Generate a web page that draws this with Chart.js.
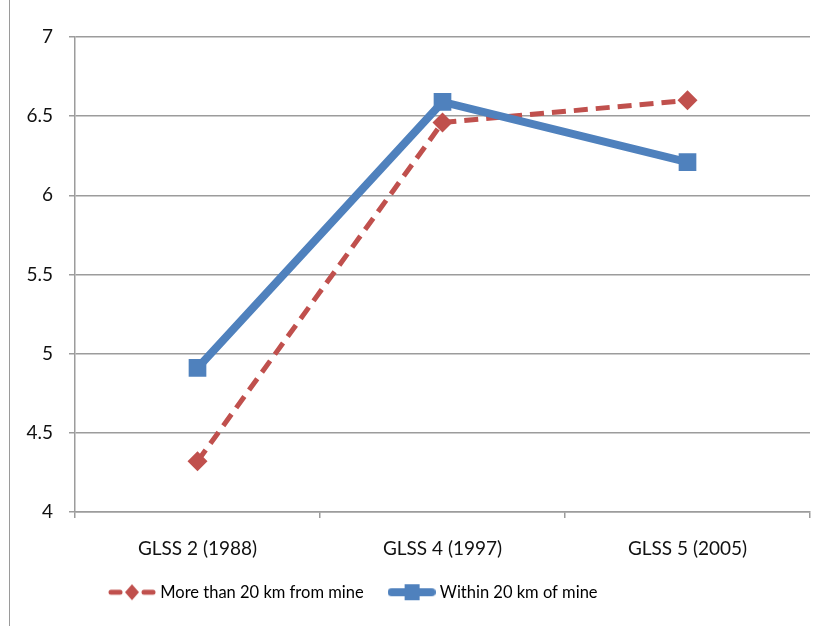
<!DOCTYPE html>
<html>
<head>
<meta charset="utf-8">
<script src="https://cdn.jsdelivr.net/npm/chart.js@4/dist/chart.umd.min.js"></script>
<style>
html,body{margin:0;padding:0;background:#fff;}
#wrap{position:relative;width:828px;height:626px;}
</style>
</head>
<body>
<div id="wrap"><canvas id="c" width="828" height="626"></canvas></div>
<script>
const categories = ["GLSS 2 (1988)", "GLSS 4 (1997)", "GLSS 5 (2005)"];
const seriesNames = ["More than 20 km from mine", "Within 20 km of mine"];
const moreThan20km = [4.32, 6.46, 6.60];
const within20km = [4.91, 6.59, 6.21];
const yTicks = [4, 4.5, 5, 5.5, 6, 6.5, 7];
const yTickLabels = ["4", "4.5", "5", "5.5", "6", "6.5", "7"];

const RED = '#c0504d';
const BLUE = '#4f81bd';
const GRID = '#9c9c9c';
const FONT = 'Lato, "Open Sans", sans-serif';

function legendIcon(kind) {
  const c = document.createElement('canvas');
  c.width = 48; c.height = 20;
  const g = c.getContext('2d');
  if (kind === 'red') {
    g.strokeStyle = RED; g.lineWidth = 5; g.lineCap = 'round';
    g.beginPath(); g.moveTo(3, 10); g.lineTo(12, 10); g.stroke();
    g.beginPath(); g.moveTo(36, 10); g.lineTo(45, 10); g.stroke();
    g.fillStyle = RED;
    g.beginPath(); g.moveTo(24, 2); g.lineTo(31, 10); g.lineTo(24, 18); g.lineTo(17, 10); g.closePath(); g.fill();
  } else {
    g.strokeStyle = BLUE; g.lineWidth = 8; g.lineCap = 'round';
    g.beginPath(); g.moveTo(4, 10); g.lineTo(44, 10); g.stroke();
    g.fillStyle = BLUE;
    g.fillRect(17, 2, 15, 16);
  }
  return c;
}
const icons = [legendIcon('red'), legendIcon('blue')];

const borderPlugin = {
  id: 'leftBorder',
  beforeDraw(chart) {
    const ctx = chart.ctx;
    ctx.save();
    ctx.strokeStyle = '#9a9a9a';
    ctx.lineWidth = 1;
    ctx.beginPath(); ctx.moveTo(9.5, 0); ctx.lineTo(9.5, 626); ctx.stroke();
    ctx.restore();
  },
  afterLayout(chart) {
    const lg = chart.legend;
    const w = lg.right - lg.left;
    const h = lg.bottom - lg.top;
    lg.left = 84; lg.right = 84 + w;
    lg.top = 556; lg.bottom = 556 + h;
  }
};

new Chart(document.getElementById('c'), {
  type: 'line',
  data: {
    labels: categories,
    datasets: [
      {
        label: seriesNames[0],
        data: moreThan20km,
        borderColor: RED,
        backgroundColor: RED,
        borderWidth: 5,
        borderDash: [14, 8],
        pointStyle: 'rectRot',
        pointRadius: 10,
        pointHoverRadius: 10,
        pointBorderWidth: 0,
        tension: 0,
        order: 2
      },
      {
        label: seriesNames[1],
        data: within20km,
        borderColor: BLUE,
        backgroundColor: BLUE,
        borderWidth: 8,
        pointStyle: 'rect',
        pointRadius: 12.5,
        pointHoverRadius: 12.5,
        pointBorderWidth: 0,
        tension: 0,
        order: 1
      }
    ]
  },
  options: {
    responsive: false,
    animation: false,
    layout: { padding: { top: 37, right: 18, left: 0, bottom: 0 } },
    plugins: {
      tooltip: { enabled: false },
      legend: {
        position: 'bottom',
        align: 'start',
        labels: {
          usePointStyle: true,
          pointStyleWidth: 40,
          padding: 28,
          color: '#111',
          font: { family: FONT, size: 16.5 },
          generateLabels(chart) {
            return chart.data.datasets.map((ds, i) => ({
              text: ds.label,
              pointStyle: icons[i],
              fillStyle: ds.borderColor,
              strokeStyle: ds.borderColor,
              lineWidth: 0,
              datasetIndex: i,
              hidden: false
            }));
          }
        }
      }
    },
    scales: {
      x: {
        offset: true,
        grid: { offset: true, drawOnChartArea: false, drawTicks: true, tickLength: 6, color: GRID, lineWidth: 1.5 },
        border: { display: true, color: GRID, width: 1.5 },
        ticks: { color: '#111', font: { family: FONT, size: 19 }, padding: 19, maxRotation: 0 },
        afterFit(s) { s.height = 59.5; }
      },
      y: {
        min: 4, max: 7,
        afterBuildTicks(s) { s.ticks = yTicks.map(v => ({ value: v })); },
        grid: { color: GRID, lineWidth: 1.5, tickLength: 6 },
        border: { display: true, color: GRID, width: 1.5 },
        ticks: {
          color: '#111', font: { family: FONT, size: 19 }, padding: 16,
          callback(value) { const i = yTicks.indexOf(value); return i >= 0 ? yTickLabels[i] : ''; }
        },
        afterFit(s) { s.width = 75; }
      }
    }
  },
  plugins: [borderPlugin]
});
</script>
</body>
</html>
